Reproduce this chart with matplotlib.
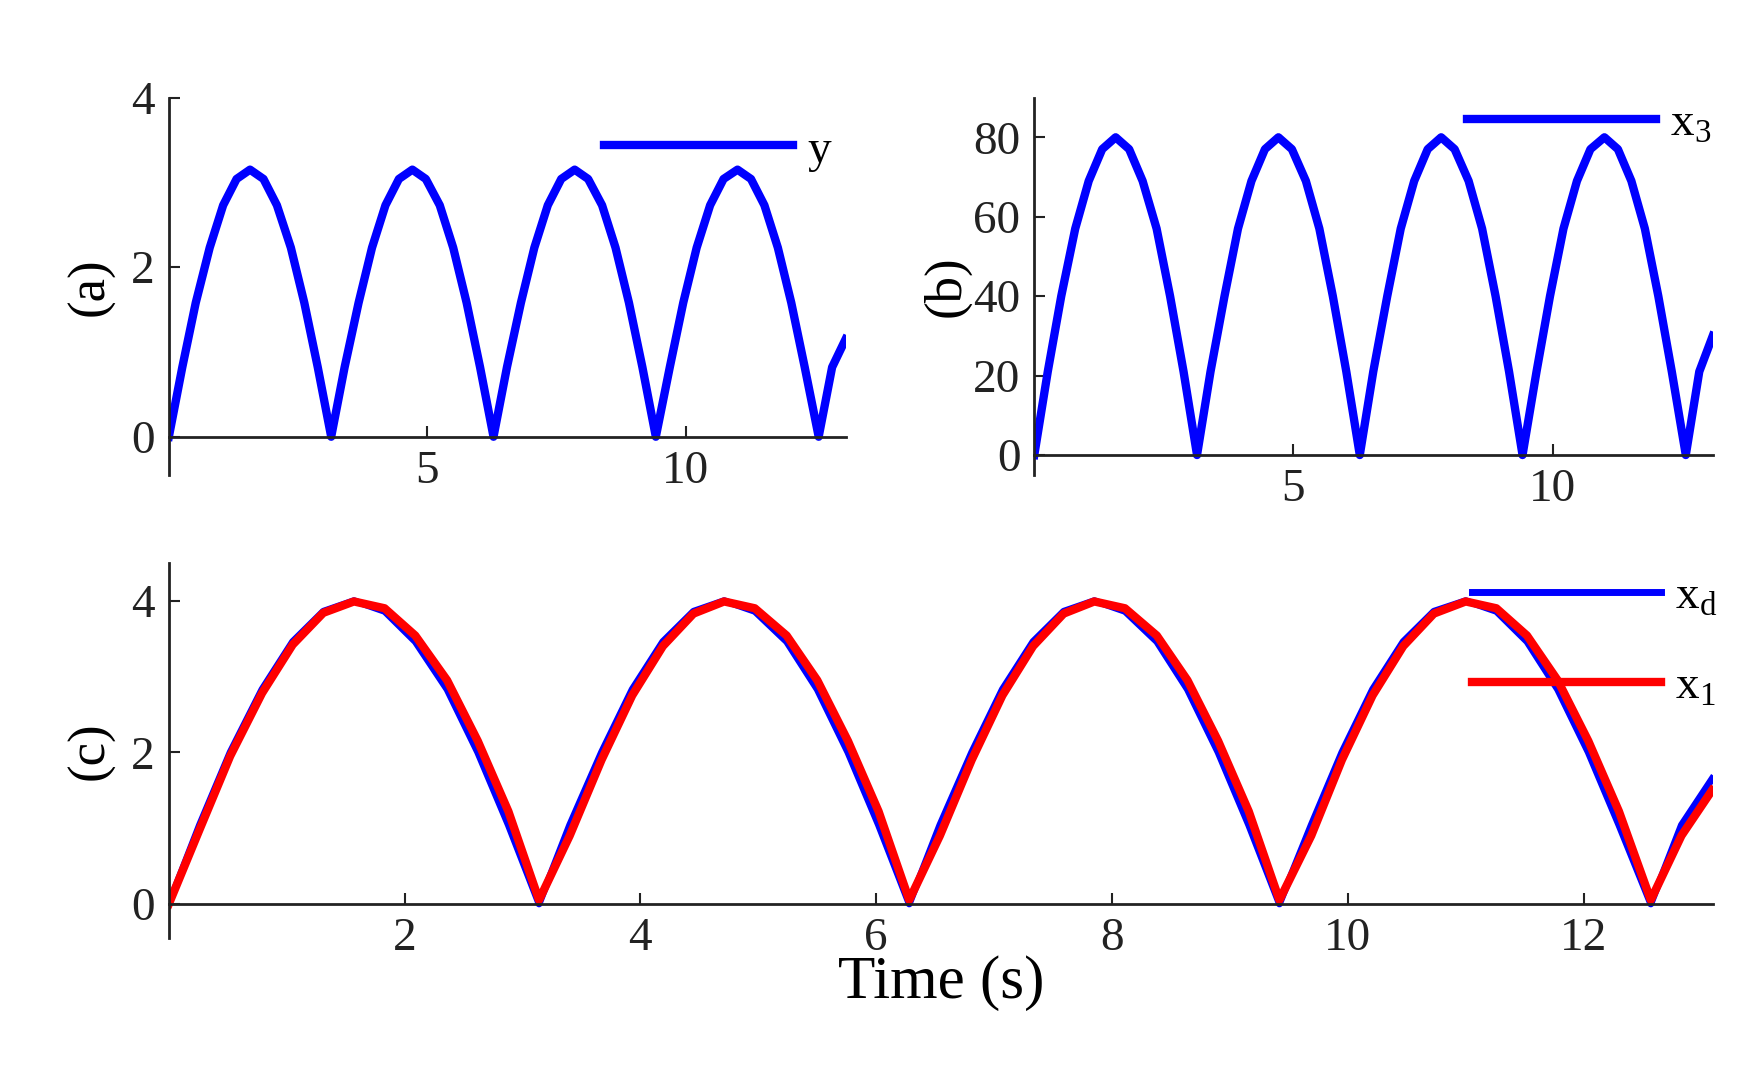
import matplotlib.pyplot as plt

t = [0, 0.26, 0.52, 0.79, 1.05, 1.31, 1.57, 1.83, 2.09, 2.36, 2.62, 2.88, 3.14,
     3.40, 3.67, 3.93, 4.19, 4.45, 4.71, 4.97, 5.24, 5.50, 5.76, 6.02, 6.28,
     6.54, 6.81, 7.07, 7.33, 7.59, 7.85, 8.11, 8.38, 8.64, 8.90, 9.16, 9.42,
     9.69, 9.95, 10.21, 10.47, 10.73, 11.00, 11.26, 11.52, 11.78, 12.04, 12.30, 12.57,
     12.83, 13.09]

y_a = [0, 0.82, 1.58, 2.23, 2.73, 3.04, 3.15, 3.04, 2.73, 2.23, 1.58, 0.82, 0,
       0.82, 1.58, 2.23, 2.73, 3.04, 3.15, 3.04, 2.73, 2.23, 1.58, 0.82, 0,
       0.82, 1.58, 2.23, 2.73, 3.04, 3.15, 3.04, 2.73, 2.23, 1.58, 0.82, 0,
       0.82, 1.58, 2.23, 2.73, 3.04, 3.15, 3.04, 2.73, 2.23, 1.58, 0.82, 0,
       0.82, 1.15]

x3 = [0, 21, 40, 57, 69, 77, 80, 77, 69, 57, 40, 21, 0,
      21, 40, 57, 69, 77, 80, 77, 69, 57, 40, 21, 0,
      21, 40, 57, 69, 77, 80, 77, 69, 57, 40, 21, 0,
      21, 40, 57, 69, 77, 80, 77, 69, 57, 40, 21, 0,
      21, 30]

xd = [0, 1.04, 2.0, 2.83, 3.46, 3.86, 4.0, 3.86, 3.46, 2.83, 2.0, 1.04, 0,
      1.04, 2.0, 2.83, 3.46, 3.86, 4.0, 3.86, 3.46, 2.83, 2.0, 1.04, 0,
      1.04, 2.0, 2.83, 3.46, 3.86, 4.0, 3.86, 3.46, 2.83, 2.0, 1.04, 0,
      1.04, 2.0, 2.83, 3.46, 3.86, 4.0, 3.86, 3.46, 2.83, 2.0, 1.04, 0,
      1.04, 1.65]

x1 = [0, 0.98, 1.95, 2.78, 3.42, 3.84, 3.99, 3.90, 3.54, 2.95, 2.15, 1.22, 0.05,
      0.90, 1.90, 2.75, 3.40, 3.83, 3.99, 3.90, 3.54, 2.95, 2.15, 1.22, 0.05,
      0.90, 1.90, 2.75, 3.40, 3.83, 3.99, 3.90, 3.54, 2.95, 2.15, 1.22, 0.05,
      0.90, 1.90, 2.75, 3.40, 3.83, 3.99, 3.90, 3.54, 2.95, 2.15, 1.22, 0.05,
      0.90, 1.50]

plt.rcParams['font.family'] = ['Liberation Serif', 'DejaVu Serif']
plt.rcParams['font.size'] = 34
plt.rcParams['mathtext.fontset'] = 'custom'
plt.rcParams['mathtext.rm'] = 'Liberation Serif'

fig = plt.figure(figsize=(17.59, 10.72), dpi=100)
ax_a = fig.add_axes([0.096, 0.557, 0.385, 0.352])
ax_b = fig.add_axes([0.588, 0.557, 0.386, 0.352])
ax_c = fig.add_axes([0.096, 0.125, 0.878, 0.35])


def style(ax):
    for s in ['top', 'right']:
        ax.spines[s].set_visible(False)
    ax.spines['bottom'].set_position(('data', 0))
    for s in ['left', 'bottom']:
        ax.spines[s].set_linewidth(2)
        ax.spines[s].set_color('#222222')
    ax.tick_params(direction='in', width=1.5, length=8, colors='#222222', pad=10)


ax_a.plot(t, y_a, color='blue', lw=6, label='y')
ax_a.set_xlim(0, 13.1)
ax_a.set_ylim(-0.45, 4)
ax_a.set_xticks([5, 10])
ax_a.set_yticks([0, 2, 4])
ax_a.set_ylabel('(a)', fontsize=38, labelpad=12)
style(ax_a)
ax_a.legend(frameon=False, loc='upper right', bbox_to_anchor=(1.04, 1.03),
            handlelength=4.0, handletextpad=0.3)

ax_b.plot(t, x3, color='blue', lw=6, label=r'x$_\mathrm{3}$')
ax_b.set_xlim(0, 13.1)
ax_b.set_ylim(-5, 90)
ax_b.set_xticks([5, 10])
ax_b.set_yticks([0, 20, 40, 60, 80])
ax_b.set_ylabel('(b)', fontsize=38, labelpad=2)
style(ax_b)
ax_b.legend(frameon=False, loc='upper right', bbox_to_anchor=(1.06, 1.1),
            handlelength=4.0, handletextpad=0.3)

ax_c.plot(t, xd, color='blue', lw=5, label=r'x$_\mathrm{d}$')
ax_c.plot(t, x1, color='red', lw=6, label=r'x$_\mathrm{1}$')
ax_c.set_xlim(0, 13.1)
ax_c.set_ylim(-0.45, 4.5)
ax_c.set_xticks([2, 4, 6, 8, 10, 12])
ax_c.set_yticks([0, 2, 4])
ax_c.set_ylabel('(c)', fontsize=38, labelpad=12)
ax_c.set_xlabel('Time (s)', fontsize=44, labelpad=-4)
style(ax_c)
ax_c.legend(frameon=False, loc='upper right', bbox_to_anchor=(1.03, 1.08),
            handlelength=4.0, handletextpad=0.3, labelspacing=1.0)

fig.savefig('out.png', dpi=100)
